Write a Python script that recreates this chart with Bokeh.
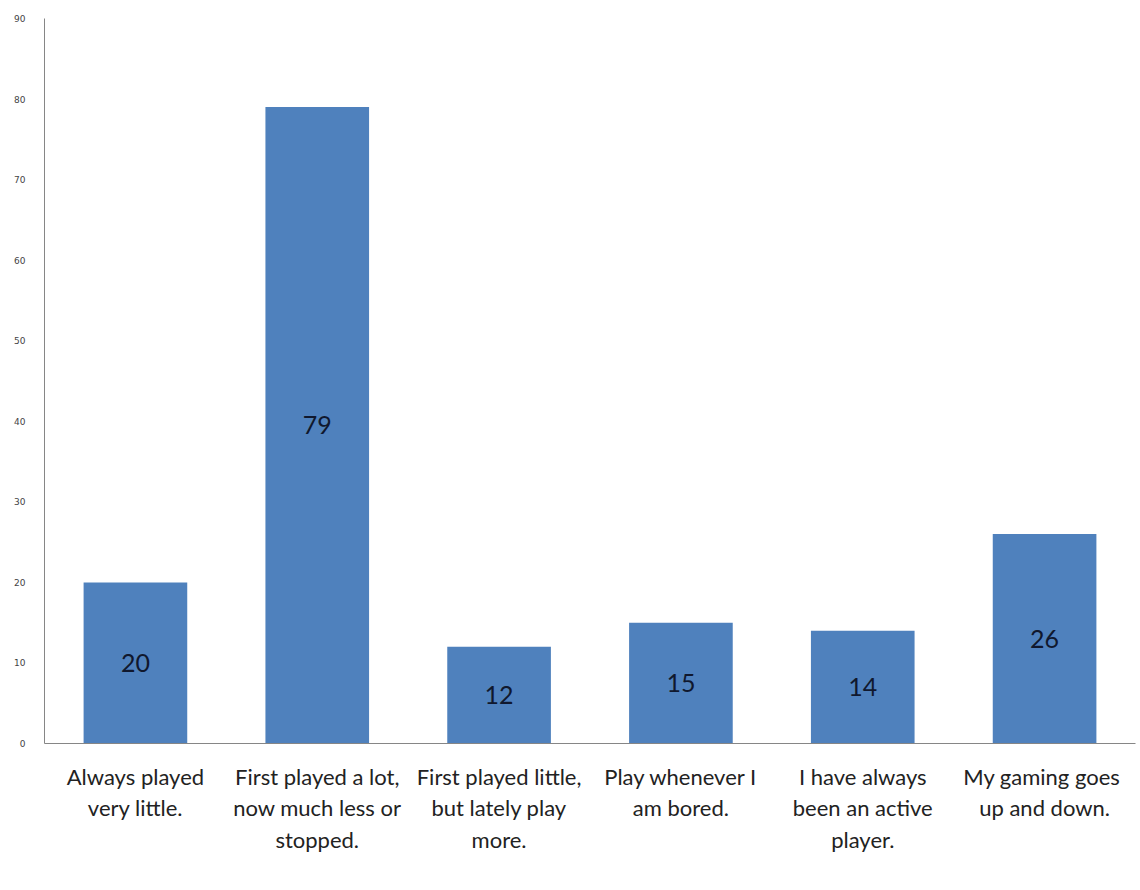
from bokeh.plotting import figure
from bokeh.models import Range1d, FactorRange, SingleIntervalTicker, ColumnDataSource
from bokeh.core.properties import value
from bokeh.embed import file_html
from bokeh.resources import INLINE

categories = [
    "Always played\nvery little.",
    "First played a lot,\nnow much less or\nstopped.",
    "First played little,\nbut lately play\nmore.",
    "Play whenever I\nam bored.",
    "I have always\nbeen an active\nplayer.",
    "My gaming  goes\nup and down.",
]
counts = [20, 79, 12, 15, 14, 26]
y_ticks_interval = 10
y_max = 90

src = ColumnDataSource(dict(
    cat=categories,
    val=counts,
    mid=[v / 2 for v in counts],
    lab=[str(v) for v in counts],
))

p = figure(
    width=1140, height=890,
    x_range=FactorRange(factors=categories),
    y_range=Range1d(0, y_max),
    output_backend="svg", toolbar_location=None,
    min_border_left=44, min_border_right=5, min_border_top=18, min_border_bottom=147,
)
p.outline_line_color = None
p.xgrid.grid_line_color = None
p.ygrid.grid_line_color = None
p.background_fill_color = "white"
p.border_fill_color = "white"

p.vbar(x="cat", top="val", width=0.57, source=src, fill_color="#4F81BD", line_color=None)
p.text(x="cat", y="mid", text="lab", source=src, text_font=value("Lato"),
       text_font_size="25px", text_color="#10182e", text_align="center", text_baseline="middle")

p.yaxis.ticker = SingleIntervalTicker(interval=y_ticks_interval)
p.yaxis.major_tick_line_color = None
p.yaxis.minor_tick_line_color = None
p.yaxis.axis_line_color = "#868686"
p.yaxis.major_label_text_font = "DejaVu Sans"
p.yaxis.major_label_text_font_size = "9px"
p.yaxis.major_label_text_color = "#444444"
p.yaxis.major_label_standoff = 13

p.xaxis.major_tick_line_color = None
p.xaxis.minor_tick_line_color = None
p.xaxis.axis_line_color = "#868686"
p.xaxis.major_label_text_font = "Lato"
p.xaxis.major_label_text_font_size = "22px"
p.xaxis.major_label_text_color = "#222222"
p.xaxis.major_label_text_line_height = 1.17
p.xaxis.major_label_standoff = 13

open("out.html", "w").write(file_html(p, INLINE))
